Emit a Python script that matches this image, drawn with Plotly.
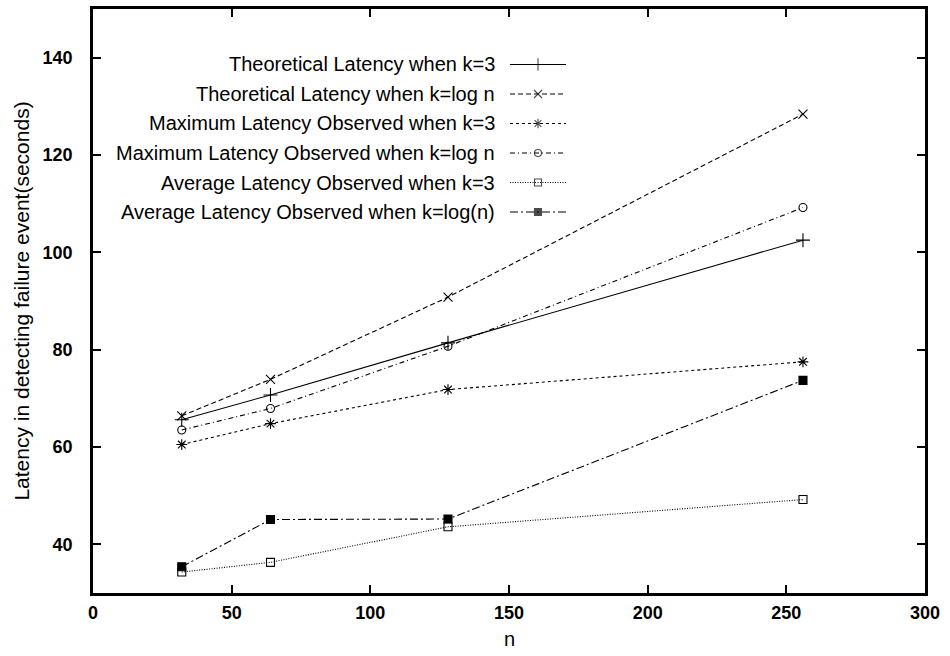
import plotly.graph_objects as go

# ---------------- data ----------------
n_values = [32, 64, 128, 256]
theo_k3 = [65.6, 70.7, 81.4, 102.5]
theo_klog = [66.4, 73.9, 90.8, 128.4]
max_k3 = [60.5, 64.8, 71.8, 77.5]
max_klog = [63.5, 67.9, 80.7, 109.2]
avg_k3 = [34.3, 36.3, 43.6, 49.2]
avg_klog = [35.4, 45.1, 45.2, 73.7]

series_names = [
    "Theoretical Latency when k=3",
    "Theoretical Latency when k=log n",
    "Maximum Latency Observed when k=3",
    "Maximum Latency Observed when k=log n",
    "Average Latency Observed when k=3",
    "Average Latency Observed when k=log(n)",
]
series_values = [theo_k3, theo_klog, max_k3, max_klog, avg_k3, avg_klog]
x_ticks = [0, 50, 100, 150, 200, 250, 300]
y_ticks = [40, 60, 80, 100, 120, 140]
x_title = "n"
y_title = "Latency in detecting failure event(seconds)"

# ---------------- styles ----------------
dashes = ["solid", "5px,3px", "3px,3px", "5px,3px,1px,3px", "1px,1.5px", "8px,3px,2px,3px"]
symbols = ["cross-thin", "x-thin", "asterisk", "circle-open", "square-open", "square"]
msizes = [10, 9, 9, 8, 8, 8]

FONT = "Liberation Sans, Arial, Helvetica, sans-serif"
W, H = 950, 656
L, R, T, B = 93, 25, 9, 63
PW, PH = W - L - R, H - T - B

fig = go.Figure()
for name, vals, d, s, ms in zip(series_names, series_values, dashes, symbols, msizes):
    fig.add_trace(go.Scatter(
        x=n_values, y=vals, mode="lines+markers", name=name,
        line=dict(color="black", width=1.1, dash=d),
        marker=dict(symbol=s, size=ms, color="black",
                    line=dict(color="black", width=1.1)),
        showlegend=False, cliponaxis=False,
    ))

# ---------------- manual gnuplot-style key ----------------
key_text_right = 497   # pixel x where text ends
key_x0, key_x1 = 510, 566
key_row0, key_dy = 64.5, 29.5


def px_to_paper_x(px):
    return (px - L) / PW


def px_to_paper_y(py):
    return 1 - (py - T) / PH


for i, (name, d, s, ms) in enumerate(zip(series_names, dashes, symbols, msizes)):
    py = key_row0 + i * key_dy
    fig.add_annotation(
        x=px_to_paper_x(key_text_right), y=px_to_paper_y(py),
        xref="paper", yref="paper", xanchor="right", yanchor="middle",
        text=name, showarrow=False,
        font=dict(family=FONT, size=20, color="black"),
    )
    kx = [key_x0 - L, (key_x0 + key_x1) / 2 - L, key_x1 - L]
    ky = [py - T] * 3
    fig.add_trace(go.Scatter(
        x=kx, y=ky, mode="lines+markers", xaxis="x2", yaxis="y2",
        line=dict(color="black", width=1.1, dash=d),
        marker=dict(symbol=s, size=[0, ms - 1, 0], color="black",
                    line=dict(color="black", width=1.1)),
        showlegend=False, hoverinfo="skip",
    ))

# x-axis title placed like gnuplot's
fig.add_annotation(
    x=0.5, y=px_to_paper_y(639), xref="paper", yref="paper",
    xanchor="center", yanchor="middle", text=x_title, showarrow=False,
    font=dict(family=FONT, size=20, color="black"),
)

axis_common = dict(
    showgrid=False, zeroline=False, automargin=False,
    showline=True, linecolor="black", linewidth=2.5,
    ticks="inside", ticklen=8, tickwidth=2, tickcolor="black",
    mirror="ticks",
    tickfont=dict(family=FONT, size=18, color="black", weight="bold"),
)

fig.update_layout(
    width=W, height=H,
    margin=dict(l=L, r=R, t=T, b=B),
    paper_bgcolor="white", plot_bgcolor="white",
    xaxis=dict(range=[0, 300], tickvals=x_ticks, ticklabelstandoff=2,
               **axis_common),
    yaxis=dict(range=[30, 150], tickvals=y_ticks, ticklabelstandoff=14,
               title=dict(text=y_title,
                          font=dict(family=FONT, size=21, color="black"),
                          standoff=8),
               **axis_common),
    xaxis2=dict(overlaying="x", range=[0, PW], visible=False, fixedrange=True),
    yaxis2=dict(overlaying="y", range=[PH, 0], visible=False, fixedrange=True),
)

fig.write_html("out.html")
